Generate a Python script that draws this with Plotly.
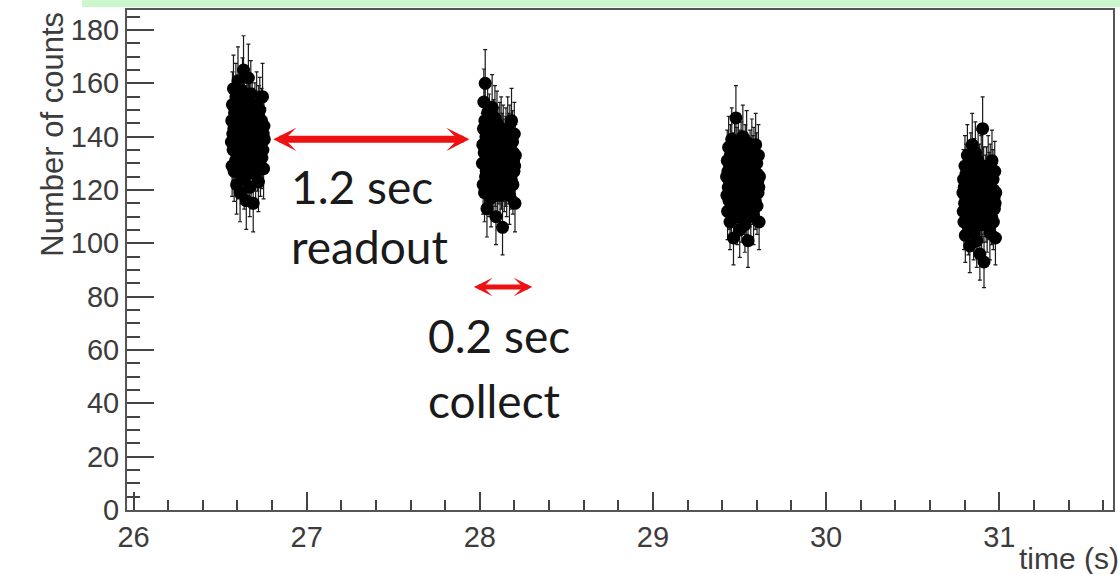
import numpy as np
import plotly.graph_objects as go

# ---- data ----
collect_start = [26.565, 28.015, 29.425, 30.790]   # start time (s) of each 0.2 s collection window
sample_offsets = [0.000, 0.002, 0.004, 0.006, 0.008, 0.010, 0.012, 0.014,
                  0.016, 0.018, 0.020, 0.022, 0.024, 0.026, 0.028, 0.030,
                  0.032, 0.034, 0.036, 0.038, 0.040, 0.042, 0.044, 0.046,
                  0.048, 0.050, 0.052, 0.054, 0.056, 0.058, 0.060, 0.062,
                  0.064, 0.066, 0.068, 0.070, 0.072, 0.074, 0.076, 0.078,
                  0.080, 0.082, 0.084, 0.086, 0.088, 0.090, 0.092, 0.094,
                  0.096, 0.098, 0.100, 0.102, 0.104, 0.106, 0.108, 0.110,
                  0.112, 0.114, 0.116, 0.118, 0.120, 0.122, 0.124, 0.126,
                  0.128, 0.130, 0.132, 0.134, 0.136, 0.138, 0.140, 0.142,
                  0.144, 0.146, 0.148, 0.150, 0.152, 0.154, 0.156, 0.158,
                  0.160, 0.162, 0.164, 0.166, 0.168, 0.170, 0.172, 0.174,
                  0.176, 0.178, 0.180, 0.182, 0.184, 0.186, 0.188, 0.190]

counts_1 = [138, 146, 129, 152, 141, 135, 158, 143, 127, 149, 137, 144, 131, 155, 140, 122,
            147, 139, 133, 161, 142, 128, 150, 136, 145, 119, 153, 141, 134, 148, 126, 143,
            157, 138, 131, 165, 144, 124, 151, 137, 140, 130, 147, 116, 142, 154, 135, 139,
            129, 162, 145, 133, 148, 121, 141, 136, 156, 127, 144, 139, 150, 132, 146, 115,
            141, 137, 144, 133, 148, 139, 126, 143, 136, 152, 140, 131, 145, 138, 123, 147,
            142, 134, 150, 137, 129, 143, 140, 146, 132, 138, 155, 135, 141, 128, 144, 139]
counts_2 = [130, 137, 122, 143, 153, 134, 119, 146, 160, 125, 140, 127, 136, 113, 133, 149,
            124, 138, 129, 121, 144, 132, 126, 141, 135, 117, 139, 130, 151, 123, 134, 128,
            142, 120, 136, 131, 147, 125, 138, 110, 133, 127, 145, 129, 122, 139, 134, 128,
            126, 131, 141, 118, 136, 128, 143, 124, 132, 137, 106, 130, 140, 127, 135, 123,
            132, 128, 136, 125, 139, 130, 121, 134, 129, 143, 131, 126, 137, 133, 118, 140,
            127, 135, 130, 124, 146, 132, 128, 138, 122, 134, 131, 127, 141, 129, 115, 133]
counts_3 = [125, 118, 131, 112, 127, 121, 136, 116, 123, 129, 108, 133, 120, 126, 114, 139,
            122, 117, 130, 124, 102, 128, 119, 135, 113, 126, 121, 147, 118, 124, 132, 110,
            127, 120, 137, 115, 123, 129, 105, 131, 122, 117, 134, 125, 111, 128, 120, 140,
            116, 124, 130, 119, 126, 107, 133, 121, 127, 114, 138, 123, 118, 129, 101, 125,
            124, 120, 128, 117, 131, 122, 113, 126, 121, 135, 123, 118, 129, 125, 110, 132,
            119, 127, 122, 116, 137, 124, 120, 130, 114, 126, 123, 119, 133, 121, 108, 125]
counts_4 = [119, 112, 124, 108, 121, 115, 129, 103, 117, 126, 113, 120, 110, 133, 116, 122,
            106, 118, 127, 114, 99, 123, 117, 130, 111, 120, 115, 137, 109, 125, 118, 104,
            121, 128, 113, 116, 134, 110, 119, 124, 101, 117, 122, 108, 131, 115, 120, 112,
            126, 96, 118, 123, 114, 129, 107, 121, 116, 143, 111, 119, 125, 93, 117, 120,
            118, 114, 122, 111, 125, 116, 107, 120, 115, 129, 117, 112, 123, 119, 104, 126,
            113, 121, 116, 110, 131, 118, 114, 124, 108, 120, 117, 113, 127, 115, 102, 119]
all_counts = [counts_1, counts_2, counts_3, counts_4]

x_tick_vals = [26, 27, 28, 29, 30, 31]
y_tick_vals = [0, 20, 40, 60, 80, 100, 120, 140, 160, 180]

readout_arrow = [26.798, 27.940, 139.0]   # x_start, x_end, y
collect_arrow = [27.957, 28.303, 83.6]

FONT = "Liberation Sans, Arial, sans-serif"
NOTE_FONT = "Lato, Open Sans, sans-serif"
RED = "#ee1111"

fig = go.Figure()
for start, cts in zip(collect_start, all_counts):
    xs = [start + o for o in sample_offsets]
    fig.add_trace(go.Scatter(
        x=xs, y=cts, mode="markers",
        marker=dict(symbol="circle", size=13, color="black", line=dict(width=0)),
        error_y=dict(type="data", array=np.sqrt(cts), visible=True,
                     color="#1a1a1a", thickness=1.2, width=2),
        showlegend=False, hoverinfo="x+y"))

axis_common = dict(showline=True, linecolor="#555555", linewidth=2, mirror=True,
                   showgrid=False, zeroline=False, ticks="inside", tickcolor="#444444",
                   tickwidth=1.5, tickfont=dict(family=FONT, size=29, color="#3c3c3c"))

fig.update_xaxes(range=[25.962, 31.657], tickvals=x_tick_vals, ticklen=18,
                 minor=dict(ticks="inside", ticklen=10, dtick=0.2, tick0=26,
                            tickcolor="#444444", tickwidth=1.5),
                 **axis_common)
fig.update_yaxes(range=[0, 187.5], tickvals=y_tick_vals, ticklen=27,
                 minor=dict(ticks="inside", ticklen=13, dtick=5, tick0=0,
                            tickcolor="#444444", tickwidth=1.5),
                 **axis_common)

annotations = []
for arr, w, s in [(readout_arrow, 7, 0.55), (collect_arrow, 5, 0.62)]:
    annotations.append(dict(
        x=arr[1], y=arr[2], ax=arr[0], ay=arr[2], xref="x", yref="y",
        axref="x", ayref="y", text="", showarrow=True, arrowside="end+start",
        arrowhead=3, startarrowhead=3, arrowsize=s, startarrowsize=s,
        arrowwidth=w, arrowcolor=RED, standoff=0, startstandoff=0))

for txt, xx, yy in [("1.2 sec", 26.900, 121.5), ("readout", 26.900, 99.0),
                    ("0.2 sec", 27.690, 65.5), ("collect", 27.690, 41.0)]:
    annotations.append(dict(x=xx, y=yy, xref="x", yref="y", text=txt, showarrow=False,
                            xanchor="left", yanchor="middle",
                            font=dict(family=NOTE_FONT, size=46, color="#1a1a1a")))

annotations.append(dict(x=-0.0759, y=1.0, xref="paper", yref="paper",
                        text="Number of counts", textangle=-90, showarrow=False,
                        xanchor="center", yanchor="top",
                        font=dict(family=FONT, size=31, color="#3c3c3c")))
annotations.append(dict(x=1.008, y=-0.096, xref="paper", yref="paper",
                        text="time (s)", showarrow=False, xanchor="right", yanchor="middle",
                        font=dict(family=FONT, size=30, color="#3c3c3c")))

fig.update_layout(
    width=1120, height=574,
    margin=dict(l=127, r=5, t=10, b=64),
    paper_bgcolor="white", plot_bgcolor="white",
    annotations=annotations,
    shapes=[dict(type="rect", xref="paper", yref="paper", x0=-0.0455, x1=1.01,
                 y0=1.006, y1=1.03, fillcolor="#ccf7cc", line=dict(width=0), layer="below")],
)

fig.write_html("out.html", config={"displayModeBar": False},
               post_script="document.body.style.margin='0';document.body.style.overflow='hidden';")
